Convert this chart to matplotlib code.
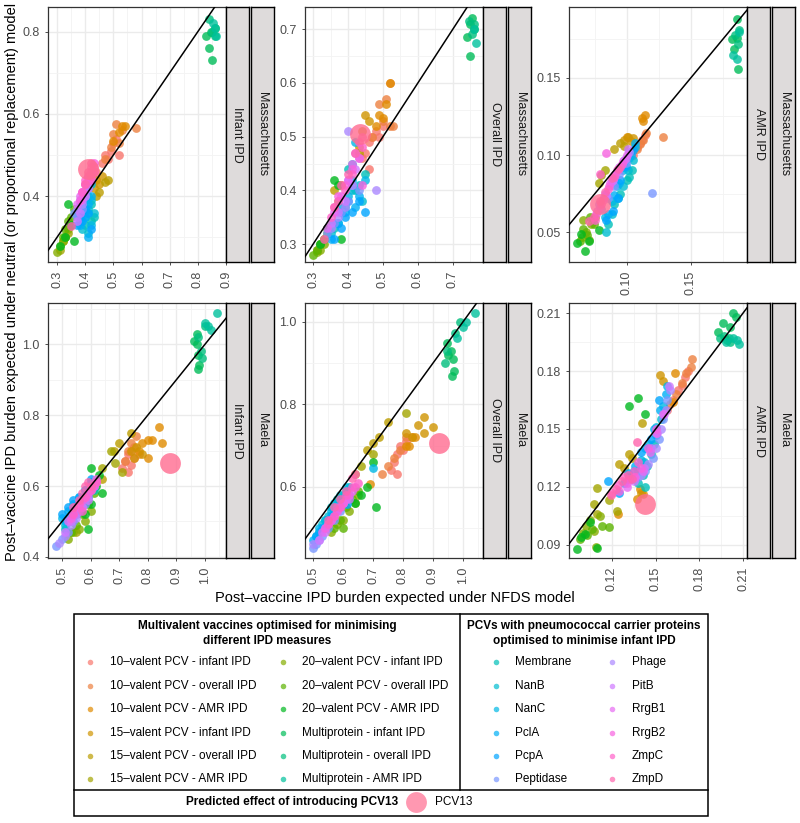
import numpy as np
import matplotlib
matplotlib.use("Agg")
import matplotlib.pyplot as plt
from matplotlib.ticker import AutoMinorLocator
from matplotlib.patches import Rectangle

plt.rcParams['font.family'] = ['Liberation Sans', 'DejaVu Sans']

labels = ["10–valent PCV - infant IPD", "10–valent PCV - overall IPD", "10–valent PCV - AMR IPD",
          "15–valent PCV - infant IPD", "15–valent PCV - overall IPD", "15–valent PCV - AMR IPD",
          "20–valent PCV - infant IPD", "20–valent PCV - overall IPD", "20–valent PCV - AMR IPD",
          "Multiprotein - infant IPD", "Multiprotein - overall IPD", "Multiprotein - AMR IPD",
          "Membrane", "NanB", "NanC", "PclA", "PcpA", "Peptidase",
          "Phage", "PitB", "RrgB1", "RrgB2", "ZmpC", "ZmpD"]

# one (x, y) pair of lists per group, in the order of labels
mass_infant = [
    ([0.44, 0.46, 0.47, 0.48, 0.49, 0.50, 0.51, 0.52], [0.46, 0.48, 0.50, 0.49, 0.51, 0.53, 0.54, 0.50]),
    ([0.47, 0.49, 0.50, 0.51, 0.52, 0.53, 0.58], [0.49, 0.52, 0.55, 0.575, 0.53, 0.56, 0.565]),
    ([0.50, 0.52, 0.53, 0.54], [0.535, 0.555, 0.57, 0.57]),
    ([0.43, 0.44, 0.45, 0.46], [0.42, 0.44, 0.43, 0.45]),
    ([0.44, 0.47, 0.48, 0.45], [0.40, 0.435, 0.44, 0.41]),
    ([0.31, 0.32, 0.33, 0.34, 0.35], [0.27, 0.29, 0.30, 0.31, 0.33]),
    ([0.30, 0.31, 0.32, 0.33, 0.34], [0.265, 0.28, 0.29, 0.30, 0.32]),
    ([0.32, 0.33, 0.34, 0.35, 0.36], [0.30, 0.32, 0.34, 0.35, 0.37]),
    ([0.31, 0.33, 0.35, 0.36, 0.37, 0.34], [0.28, 0.30, 0.33, 0.29, 0.36, 0.38]),
    ([0.83, 0.84, 0.845, 0.85, 0.86], [0.79, 0.76, 0.80, 0.73, 0.81]),
    ([0.84, 0.85, 0.86], [0.83, 0.80, 0.79]),
    ([0.855, 0.865, 0.86], [0.82, 0.79, 0.81]),
    ([0.40, 0.41, 0.42, 0.42, 0.41, 0.43], [0.33, 0.36, 0.38, 0.34, 0.40, 0.35]),
    ([0.39, 0.40, 0.41, 0.42, 0.41, 0.43], [0.32, 0.35, 0.37, 0.39, 0.31, 0.36]),
    ([0.38, 0.39, 0.40, 0.41, 0.42, 0.42], [0.34, 0.37, 0.39, 0.42, 0.43, 0.33]),
    ([0.38, 0.39, 0.40, 0.41, 0.42, 0.41], [0.33, 0.36, 0.35, 0.38, 0.40, 0.30]),
    ([0.37, 0.38, 0.39, 0.40, 0.41, 0.42], [0.33, 0.35, 0.34, 0.37, 0.36, 0.32]),
    ([0.36, 0.37, 0.38, 0.39, 0.40, 0.41], [0.36, 0.35, 0.38, 0.37, 0.40, 0.42]),
    ([0.37, 0.38, 0.39, 0.40, 0.41, 0.42], [0.37, 0.39, 0.38, 0.41, 0.43, 0.44]),
    ([0.37, 0.38, 0.39, 0.40, 0.41, 0.42], [0.34, 0.36, 0.39, 0.40, 0.42, 0.44]),
    ([0.37, 0.38, 0.39, 0.40, 0.41, 0.42], [0.38, 0.40, 0.41, 0.43, 0.44, 0.46]),
    ([0.38, 0.39, 0.40, 0.41, 0.42, 0.43], [0.39, 0.41, 0.43, 0.45, 0.46, 0.48]),
    ([0.39, 0.40, 0.41, 0.42, 0.42, 0.43], [0.41, 0.44, 0.45, 0.47, 0.44, 0.46]),
    ([0.35, 0.40, 0.41, 0.42, 0.43, 0.42], [0.327, 0.43, 0.46, 0.48, 0.47, 0.45]),
]

mass_overall = [
    ([0.44, 0.45, 0.46, 0.47, 0.48, 0.49, 0.50, 0.46], [0.46, 0.47, 0.49, 0.50, 0.51, 0.50, 0.52, 0.44]),
    ([0.47, 0.49, 0.50, 0.51, 0.52, 0.52, 0.53], [0.50, 0.56, 0.53, 0.57, 0.60, 0.52, 0.52]),
    ([0.48, 0.49, 0.50, 0.51, 0.52], [0.52, 0.54, 0.535, 0.56, 0.60]),
    ([0.45, 0.43, 0.44, 0.46], [0.54, 0.48, 0.51, 0.53]),
    ([0.36, 0.37, 0.38, 0.43], [0.40, 0.38, 0.41, 0.47]),
    ([0.31, 0.32, 0.33, 0.35], [0.29, 0.30, 0.31, 0.34]),
    ([0.31, 0.32, 0.33, 0.34], [0.285, 0.29, 0.30, 0.32]),
    ([0.30, 0.31, 0.32, 0.33, 0.34], [0.28, 0.29, 0.30, 0.31, 0.33]),
    ([0.36, 0.37, 0.38, 0.34, 0.32], [0.42, 0.41, 0.31, 0.33, 0.30]),
    ([0.74, 0.75, 0.755, 0.76, 0.75], [0.685, 0.71, 0.72, 0.70, 0.65]),
    ([0.745, 0.755, 0.76], [0.715, 0.69, 0.71]),
    ([0.76, 0.765], [0.70, 0.675]),
    ([0.36, 0.38, 0.40, 0.42, 0.45, 0.41], [0.33, 0.36, 0.44, 0.40, 0.43, 0.45]),
    ([0.35, 0.37, 0.39, 0.41, 0.43, 0.44], [0.32, 0.34, 0.37, 0.40, 0.41, 0.38]),
    ([0.36, 0.38, 0.40, 0.41, 0.42, 0.45], [0.34, 0.37, 0.39, 0.42, 0.49, 0.42]),
    ([0.35, 0.37, 0.39, 0.40, 0.42, 0.43], [0.31, 0.34, 0.36, 0.38, 0.37, 0.39]),
    ([0.36, 0.38, 0.39, 0.41, 0.43, 0.45], [0.31, 0.33, 0.35, 0.36, 0.38, 0.36]),
    ([0.34, 0.36, 0.38, 0.40, 0.41, 0.43], [0.32, 0.34, 0.36, 0.38, 0.41, 0.40]),
    ([0.35, 0.37, 0.39, 0.41, 0.40, 0.48], [0.33, 0.35, 0.37, 0.41, 0.51, 0.40]),
    ([0.35, 0.37, 0.39, 0.40, 0.42, 0.43], [0.34, 0.36, 0.38, 0.42, 0.44, 0.46]),
    ([0.34, 0.36, 0.38, 0.40, 0.41, 0.42], [0.33, 0.36, 0.39, 0.42, 0.45, 0.47]),
    ([0.36, 0.37, 0.39, 0.41, 0.43, 0.44], [0.37, 0.39, 0.41, 0.44, 0.46, 0.41]),
    ([0.35, 0.37, 0.39, 0.41, 0.43, 0.44], [0.35, 0.38, 0.40, 0.43, 0.49, 0.48]),
    ([0.33, 0.36, 0.38, 0.40, 0.42, 0.44], [0.31, 0.37, 0.41, 0.43, 0.47, 0.50]),
]

mass_amr = [
    ([0.105, 0.108, 0.110, 0.112, 0.114], [0.100, 0.105, 0.108, 0.110, 0.113]),
    ([0.108, 0.110, 0.113, 0.128, 0.115], [0.104, 0.107, 0.110, 0.112, 0.114]),
    ([0.100, 0.112, 0.114, 0.113], [0.112, 0.124, 0.126, 0.122]),
    ([0.098, 0.101, 0.103, 0.105], [0.110, 0.112, 0.109, 0.111]),
    ([0.090, 0.095, 0.098], [0.104, 0.108, 0.106]),
    ([0.080, 0.083, 0.078, 0.075], [0.087, 0.090, 0.082, 0.060]),
    ([0.065, 0.068, 0.070, 0.072, 0.066], [0.047, 0.050, 0.045, 0.055, 0.058]),
    ([0.063, 0.066, 0.069, 0.074, 0.071], [0.044, 0.052, 0.048, 0.055, 0.060]),
    ([0.061, 0.067, 0.070, 0.078, 0.064], [0.043, 0.0375, 0.044, 0.0516, 0.049]),
    ([0.182, 0.184, 0.186, 0.186, 0.187], [0.175, 0.169, 0.188, 0.176, 0.156]),
    ([0.185, 0.187, 0.188], [0.178, 0.172, 0.181]),
    ([0.183, 0.186, 0.1875], [0.165, 0.162, 0.180]),
    ([0.085, 0.090, 0.095, 0.100, 0.102, 0.104], [0.055, 0.068, 0.075, 0.084, 0.086, 0.090]),
    ([0.084, 0.088, 0.093, 0.097, 0.101, 0.105], [0.050, 0.062, 0.072, 0.080, 0.090, 0.097]),
    ([0.083, 0.088, 0.092, 0.097, 0.102, 0.106], [0.060, 0.070, 0.080, 0.090, 0.098, 0.105]),
    ([0.085, 0.090, 0.094, 0.098, 0.103, 0.106], [0.062, 0.074, 0.082, 0.092, 0.100, 0.108]),
    ([0.084, 0.0895, 0.093, 0.095, 0.099, 0.105], [0.058, 0.064, 0.072, 0.084, 0.093, 0.103]),
    ([0.080, 0.085, 0.090, 0.094, 0.099, 0.120], [0.065, 0.072, 0.080, 0.088, 0.095, 0.0755]),
    ([0.078, 0.083, 0.088, 0.093, 0.098, 0.102], [0.068, 0.075, 0.083, 0.090, 0.097, 0.102]),
    ([0.079, 0.084, 0.089, 0.094, 0.099, 0.101], [0.066, 0.074, 0.084, 0.092, 0.098, 0.104]),
    ([0.077, 0.082, 0.087, 0.092, 0.097, 0.100], [0.064, 0.073, 0.082, 0.090, 0.096, 0.100]),
    ([0.076, 0.081, 0.086, 0.091, 0.096, 0.084], [0.062, 0.071, 0.080, 0.088, 0.094, 0.101]),
    ([0.075, 0.080, 0.085, 0.090, 0.095, 0.079], [0.058, 0.068, 0.078, 0.086, 0.092, 0.088]),
    ([0.074, 0.079, 0.083, 0.088, 0.093, 0.070], [0.060, 0.070, 0.076, 0.085, 0.091, 0.057]),
]

maela_infant = [
    ([0.71, 0.72, 0.73, 0.74, 0.75, 0.74, 0.73], [0.65, 0.67, 0.69, 0.70, 0.68, 0.66, 0.64]),
    ([0.72, 0.73, 0.74, 0.75, 0.76, 0.77], [0.67, 0.70, 0.72, 0.71, 0.74, 0.69]),
    ([0.77, 0.78, 0.80, 0.815, 0.84, 0.85, 0.80], [0.70, 0.72, 0.68, 0.73, 0.765, 0.72, 0.73]),
    ([0.74, 0.75, 0.76, 0.78], [0.70, 0.68, 0.71, 0.69]),
    ([0.68, 0.70, 0.74, 0.64], [0.70, 0.72, 0.75, 0.62]),
    ([0.67, 0.685, 0.71, 0.64, 0.55], [0.70, 0.665, 0.64, 0.65, 0.47]),
    ([0.52, 0.54, 0.56, 0.58, 0.60], [0.45, 0.47, 0.48, 0.50, 0.53]),
    ([0.53, 0.55, 0.57, 0.59, 0.61], [0.47, 0.49, 0.52, 0.55, 0.58]),
    ([0.58, 0.59, 0.60, 0.62, 0.63, 0.64, 0.60], [0.52, 0.48, 0.55, 0.60, 0.63, 0.58, 0.65]),
    ([0.96, 0.97, 0.975, 0.98, 0.97, 0.975], [1.01, 1.03, 0.93, 0.94, 1.00, 0.97]),
    ([0.975, 0.985, 0.99, 1.00], [1.02, 0.98, 0.96, 1.05]),
    ([1.00, 1.01, 1.04, 1.02], [1.06, 1.05, 1.087, 1.04]),
    ([0.51, 0.53, 0.55, 0.57, 0.59, 0.61], [0.48, 0.50, 0.52, 0.55, 0.57, 0.59]),
    ([0.51, 0.52, 0.54, 0.56, 0.58, 0.60], [0.49, 0.51, 0.53, 0.54, 0.57, 0.60]),
    ([0.50, 0.52, 0.54, 0.56, 0.58, 0.60], [0.51, 0.53, 0.55, 0.57, 0.59, 0.61]),
    ([0.51, 0.53, 0.55, 0.57, 0.59, 0.61], [0.50, 0.52, 0.54, 0.56, 0.58, 0.60]),
    ([0.50, 0.52, 0.54, 0.56, 0.58, 0.60], [0.52, 0.54, 0.56, 0.57, 0.59, 0.62]),
    ([0.48, 0.50, 0.52, 0.54, 0.56, 0.58], [0.43, 0.45, 0.47, 0.50, 0.53, 0.55]),
    ([0.49, 0.51, 0.53, 0.55, 0.57, 0.59], [0.44, 0.46, 0.49, 0.51, 0.54, 0.57]),
    ([0.51, 0.53, 0.55, 0.57, 0.59, 0.61], [0.47, 0.50, 0.52, 0.54, 0.56, 0.60]),
    ([0.52, 0.54, 0.56, 0.58, 0.60, 0.62], [0.50, 0.52, 0.54, 0.57, 0.59, 0.61]),
    ([0.53, 0.55, 0.57, 0.59, 0.61, 0.62], [0.51, 0.54, 0.56, 0.58, 0.60, 0.62]),
    ([0.54, 0.56, 0.58, 0.60, 0.62, 0.57], [0.52, 0.55, 0.57, 0.59, 0.61, 0.53]),
    ([0.54, 0.56, 0.57, 0.58, 0.60, 0.59], [0.54, 0.56, 0.58, 0.60, 0.60, 0.61]),
]

maela_overall = [
    ([0.76, 0.77, 0.78, 0.79, 0.80, 0.81, 0.78], [0.64, 0.66, 0.68, 0.70, 0.69, 0.71, 0.63]),
    ([0.73, 0.75, 0.77, 0.79, 0.81, 0.83], [0.63, 0.65, 0.67, 0.69, 0.72, 0.72]),
    ([0.69, 0.82, 0.84, 0.81], [0.607, 0.70, 0.72, 0.70]),
    ([0.81, 0.83, 0.85, 0.87, 0.90, 0.87], [0.73, 0.72, 0.75, 0.77, 0.744, 0.73]),
    ([0.70, 0.75, 0.72, 0.68], [0.707, 0.756, 0.72, 0.69]),
    ([0.81, 0.70, 0.66, 0.64], [0.78, 0.68, 0.65, 0.63]),
    ([0.56, 0.58, 0.60, 0.62, 0.64, 0.65], [0.49, 0.51, 0.52, 0.54, 0.56, 0.58]),
    ([0.57, 0.59, 0.61, 0.63, 0.65, 0.60], [0.50, 0.52, 0.55, 0.57, 0.59, 0.50]),
    ([0.64, 0.66, 0.68, 0.70, 0.71, 0.62], [0.56, 0.58, 0.60, 0.66, 0.55, 0.57]),
    ([0.947, 0.96, 0.967, 0.963, 0.97, 0.95], [0.95, 0.93, 0.91, 0.87, 0.88, 0.92]),
    ([0.94, 0.947, 0.973, 0.99], [0.90, 0.93, 0.973, 1.00]),
    ([1.00, 1.04, 1.01, 0.98], [0.988, 1.022, 1.00, 0.96]),
    ([0.52, 0.54, 0.56, 0.58, 0.60, 0.62], [0.49, 0.52, 0.55, 0.57, 0.58, 0.60]),
    ([0.51, 0.53, 0.55, 0.57, 0.59, 0.61], [0.48, 0.51, 0.53, 0.56, 0.58, 0.59]),
    ([0.52, 0.54, 0.56, 0.58, 0.61, 0.70], [0.50, 0.52, 0.54, 0.56, 0.60, 0.646]),
    ([0.50, 0.52, 0.55, 0.57, 0.60, 0.62], [0.47, 0.49, 0.52, 0.54, 0.57, 0.58]),
    ([0.51, 0.53, 0.56, 0.58, 0.60, 0.613], [0.48, 0.50, 0.53, 0.55, 0.56, 0.558]),
    ([0.50, 0.51, 0.53, 0.55, 0.57, 0.59], [0.451, 0.46, 0.48, 0.50, 0.52, 0.54]),
    ([0.50, 0.52, 0.54, 0.56, 0.58, 0.60], [0.46, 0.47, 0.50, 0.52, 0.55, 0.56]),
    ([0.52, 0.54, 0.56, 0.58, 0.60, 0.62], [0.47, 0.49, 0.52, 0.54, 0.56, 0.57]),
    ([0.53, 0.55, 0.57, 0.59, 0.61, 0.63], [0.49, 0.51, 0.53, 0.55, 0.57, 0.59]),
    ([0.54, 0.56, 0.58, 0.60, 0.62, 0.64], [0.50, 0.52, 0.54, 0.56, 0.58, 0.60]),
    ([0.55, 0.57, 0.59, 0.61, 0.63, 0.65], [0.51, 0.53, 0.55, 0.58, 0.60, 0.61]),
    ([0.55, 0.57, 0.59, 0.61, 0.63, 0.64], [0.52, 0.55, 0.57, 0.59, 0.62, 0.63]),
]

maela_amr = [
    ([0.162, 0.165, 0.168, 0.170, 0.172, 0.158], [0.165, 0.170, 0.173, 0.177, 0.180, 0.160]),
    ([0.164, 0.168, 0.171, 0.174, 0.175, 0.160], [0.168, 0.174, 0.179, 0.182, 0.186, 0.163]),
    ([0.162, 0.141, 0.137, 0.124, 0.163, 0.139], [0.164, 0.1164, 0.114, 0.106, 0.179, 0.119]),
    ([0.153, 0.140, 0.132, 0.155], [0.178, 0.117, 0.125, 0.175]),
    ([0.1405, 0.132, 0.125, 0.128, 0.134], [0.153, 0.137, 0.132, 0.130, 0.135]),
    ([0.110, 0.108, 0.110, 0.1235, 0.118], [0.106, 0.111, 0.1195, 0.1075, 0.113]),
    ([0.102, 0.105, 0.108, 0.112, 0.100, 0.109], [0.100, 0.103, 0.097, 0.105, 0.096, 0.089]),
    ([0.098, 0.103, 0.106, 0.113, 0.118], [0.093, 0.095, 0.098, 0.100, 0.099]),
    ([0.096, 0.099, 0.1015, 0.105, 0.138, 0.132, 0.1426, 0.110], [0.088, 0.094, 0.0955, 0.102, 0.166, 0.162, 0.158, 0.0885]),
    ([0.193, 0.196, 0.199, 0.203, 0.205, 0.201], [0.200, 0.205, 0.196, 0.210, 0.208, 0.203]),
    ([0.194, 0.197, 0.200, 0.201], [0.197, 0.198, 0.197, 0.195]),
    ([0.198, 0.203, 0.206, 0.207], [0.195, 0.197, 0.196, 0.194]),
    ([0.138, 0.141, 0.144, 0.147, 0.149, 0.143], [0.122, 0.126, 0.131, 0.137, 0.142, 0.120]),
    ([0.133, 0.138, 0.142, 0.146, 0.150, 0.154], [0.124, 0.128, 0.133, 0.140, 0.147, 0.155]),
    ([0.135, 0.140, 0.145, 0.150, 0.155, 0.158], [0.128, 0.134, 0.142, 0.151, 0.162, 0.172]),
    ([0.128, 0.136, 0.143, 0.149, 0.153, 0.157], [0.122, 0.131, 0.140, 0.150, 0.160, 0.168]),
    ([0.117, 0.125, 0.131, 0.140, 0.147, 0.152], [0.123, 0.117, 0.127, 0.138, 0.145, 0.165]),
    ([0.138, 0.143, 0.148, 0.152, 0.155, 0.158], [0.125, 0.128, 0.135, 0.145, 0.155, 0.165]),
    ([0.140, 0.145, 0.150, 0.154, 0.157, 0.160], [0.126, 0.132, 0.140, 0.150, 0.160, 0.170]),
    ([0.135, 0.142, 0.147, 0.151, 0.156, 0.159], [0.123, 0.130, 0.140, 0.148, 0.158, 0.172]),
    ([0.130, 0.136, 0.141, 0.146, 0.150, 0.155], [0.120, 0.125, 0.128, 0.138, 0.148, 0.158]),
    ([0.125, 0.130, 0.135, 0.140, 0.145, 0.150], [0.118, 0.122, 0.125, 0.130, 0.140, 0.150]),
    ([0.120, 0.124, 0.128, 0.132, 0.135, 0.138], [0.117, 0.121, 0.125, 0.124, 0.128, 0.133]),
    ([0.119, 0.123, 0.127, 0.131, 0.134, 0.137], [0.116, 0.119, 0.123, 0.126, 0.124, 0.143]),
]

# PCV13 point in each panel (x, y)
pcv13 = {"mass_infant": (0.41, 0.465), "mass_overall": (0.434, 0.505), "mass_amr": (0.079, 0.068),
         "maela_infant": (0.878, 0.665), "maela_overall": (0.92, 0.707), "maela_amr": (0.143, 0.111)}

# (row, col, location, measure, data, key, xlim, ylim, xticks, yticks, decimals)
panels = [
    (0, 0, "Massachusetts", "Infant IPD", mass_infant, "mass_infant", (0.268, 0.897), (0.24, 0.86),
     [0.3, 0.4, 0.5, 0.6, 0.7, 0.8, 0.9], [0.4, 0.6, 0.8], 1),
    (0, 1, "Massachusetts", "Overall IPD", mass_overall, "mass_overall", (0.277, 0.786), (0.267, 0.741),
     [0.3, 0.4, 0.5, 0.6, 0.7], [0.3, 0.4, 0.5, 0.6, 0.7], 1),
    (0, 2, "Massachusetts", "AMR IPD", mass_amr, "mass_amr", (0.0547, 0.194), (0.0306, 0.196),
     [0.10, 0.15], [0.05, 0.10, 0.15], 2),
    (1, 0, "Maela", "Infant IPD", maela_infant, "maela_infant", (0.451, 1.073), (0.397, 1.116),
     [0.5, 0.6, 0.7, 0.8, 0.9, 1.0], [0.4, 0.6, 0.8, 1.0], 1),
    (1, 1, "Maela", "Overall IPD", maela_overall, "maela_overall", (0.473, 1.067), (0.427, 1.046),
     [0.5, 0.6, 0.7, 0.8, 0.9, 1.0], [0.6, 0.8, 1.0], 1),
    (1, 2, "Maela", "AMR IPD", maela_amr, "maela_amr", (0.0905, 0.2127), (0.0832, 0.2152),
     [0.12, 0.15, 0.18, 0.21], [0.09, 0.12, 0.15, 0.18, 0.21], 2),
]


def hcl(h, c=100.0, l=65.0):
    # ggplot2 hue palette colour (polar Luv -> sRGB)
    hr = np.deg2rad(h)
    u, v = c * np.cos(hr), c * np.sin(hr)
    Xn, Yn, Zn = 95.047, 100.0, 108.883
    den = Xn + 15 * Yn + 3 * Zn
    un, vn = 4 * Xn / den, 9 * Yn / den
    Y = Yn * ((l + 16) / 116) ** 3
    up, vp = u / (13 * l) + un, v / (13 * l) + vn
    X = Y * 9 * up / (4 * vp)
    Z = Y * (12 - 3 * up - 20 * vp) / (4 * vp)
    X, Y, Z = X / 100, Y / 100, Z / 100
    rgb = [3.2406 * X - 1.5372 * Y - 0.4986 * Z,
           -0.9689 * X + 1.8758 * Y + 0.0415 * Z,
           0.0557 * X - 0.2040 * Y + 1.0570 * Z]
    out = []
    for ch in rgb:
        ch = 1.055 * ch ** (1 / 2.4) - 0.055 if ch > 0.0031308 else 12.92 * ch
        out.append(min(max(ch, 0), 1))
    return tuple(out)


hues = np.linspace(15, 375, 26)[:25]
colors = [hcl(h) for h in hues]
pcv_color = colors[24]

W, H = 800, 823
fig = plt.figure(figsize=(8, 8.23), dpi=100)


def px_axes(l, t, w, h):
    return fig.add_axes([l / W, 1 - (t + h) / H, w / W, h / H])


col_left = [48, 305, 569]
row_top = [7, 303]
pw, ph = 178, 255
strip_w = 23
strip_fill = "#DEDBDB"

for row, col, loc, measure, data, key, xlim, ylim, xt, yt, dec in panels:
    ax = px_axes(col_left[col], row_top[row], pw, ph)
    ax.set_axisbelow(True)
    for i, (xs, ys) in enumerate(data):
        ax.scatter(xs, ys, s=40, color=colors[i], alpha=0.8, linewidths=0, zorder=2)
    px, py = pcv13[key]
    ax.scatter([px], [py], s=225, color=pcv_color, alpha=0.8, linewidths=0, zorder=3)
    ax.axline((0, 0), (1, 1), color="black", lw=1.1, zorder=4)
    ax.set_xlim(*xlim)
    ax.set_ylim(*ylim)
    ax.set_xticks(xt)
    ax.set_yticks(yt)
    ax.set_xticklabels([f"{t:.{dec}f}" for t in xt], rotation=90)
    ax.set_yticklabels([f"{t:.{dec}f}" for t in yt])
    ax.xaxis.set_minor_locator(AutoMinorLocator(2))
    ax.yaxis.set_minor_locator(AutoMinorLocator(2))
    ax.grid(which="major", color="#EBEBEB", lw=1.0)
    ax.grid(which="minor", color="#F3F3F3", lw=0.6)
    ax.tick_params(which="major", labelsize=9, colors="#333333", labelcolor="#4D4D4D", length=2.5, width=0.6)
    ax.tick_params(which="minor", length=0)
    for sp in ax.spines.values():
        sp.set_color("#333333")
        sp.set_linewidth(0.9)

    # facet strips on the right
    x0 = col_left[col] + pw
    for j, txt in enumerate([measure, loc]):
        sa = px_axes(x0 + j * (strip_w + 2), row_top[row], strip_w, ph)
        sa.set_facecolor(strip_fill)
        sa.set_xticks([])
        sa.set_yticks([])
        for sp in sa.spines.values():
            sp.set_color("black")
            sp.set_linewidth(1.0)
        sa.text(0.5, 0.5, txt, rotation=-90, ha="center", va="center",
                fontsize=9, color="#1A1A1A", transform=sa.transAxes)

fig.text(12 / W, 1 - 282 / H, "Post–vaccine IPD burden expected under neutral (or proportional replacement) model",
         rotation=90, ha="center", va="center", fontsize=10.5)
fig.text(395 / W, 1 - 598 / H, "Post–vaccine IPD burden expected under NFDS model",
         ha="center", va="center", fontsize=10.5)

# legend drawn in pixel coordinates
ov = fig.add_axes([0, 0, 1, 1])
ov.set_xlim(0, W)
ov.set_ylim(H, 0)
ov.axis("off")
ov.add_patch(Rectangle((74, 614), 634, 202, fill=False, ec="black", lw=1.1))
ov.plot([460, 460], [614, 790], color="black", lw=1.1)
ov.plot([74, 708], [790, 790], color="black", lw=1.1)

ov.text(267, 626, "Multivalent vaccines optimised for minimising", ha="center", va="center",
        fontsize=8.5, fontweight="bold")
ov.text(267, 641, "different IPD measures", ha="center", va="center", fontsize=8.5, fontweight="bold")
ov.text(584, 626, "PCVs with pneumococcal carrier proteins", ha="center", va="center",
        fontsize=8.5, fontweight="bold")
ov.text(584, 641, "optimised to minimise infant IPD", ha="center", va="center", fontsize=8.5, fontweight="bold")

row_y = [662, 686, 709, 733, 756, 779]
col_dot = [90, 283, 496, 612]
col_txt = [110, 302, 515, 632]
for i, lab in enumerate(labels):
    c, r = divmod(i, 6)
    ov.scatter([col_dot[c]], [row_y[r]], s=16, color=colors[i], alpha=0.7, linewidths=0)
    ov.text(col_txt[c], row_y[r], lab, ha="left", va="center", fontsize=8.5)

ov.text(398, 802, "Predicted effect of introducing PCV13", ha="right", va="center",
        fontsize=8.5, fontweight="bold")
ov.scatter([416], [802], s=225, color=pcv_color, alpha=0.7, linewidths=0)
ov.text(435, 802, "PCV13", ha="left", va="center", fontsize=8.5)

fig.savefig("out.png", dpi=100)
